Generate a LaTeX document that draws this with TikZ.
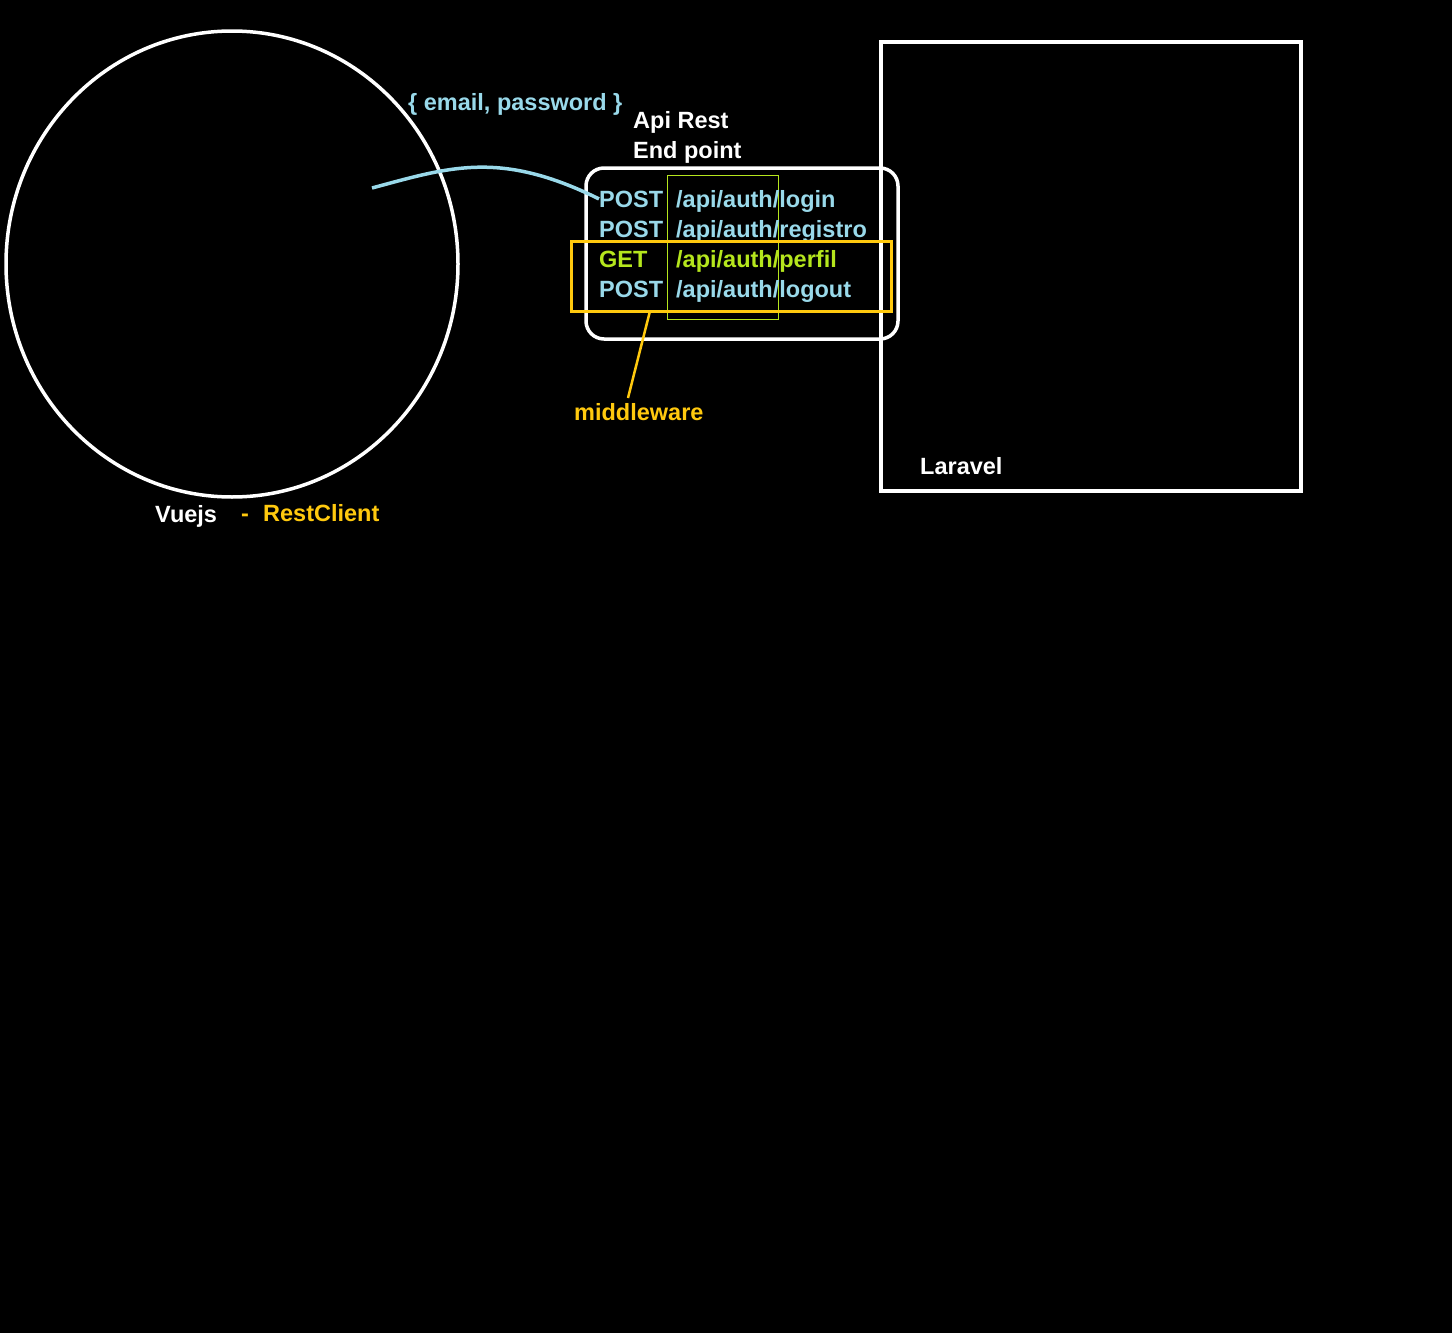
\documentclass[tikz,border=0pt]{standalone}
\usepackage{fontspec}
\setmainfont{Liberation Sans}
\definecolor{sky}{RGB}{153,217,234}
\definecolor{lime}{RGB}{181,230,29}
\definecolor{gold}{RGB}{255,201,14}
\tikzset{
  lbl/.style={anchor=base west, inner sep=0pt, font=\fontsize{23.5}{28}\selectfont\bfseries},
}
\begin{document}
\begin{tikzpicture}[x=1pt, y=-1pt]
  \fill[black] (0,0) rectangle (1452,1333);
  \useasboundingbox (0,0) rectangle (1452,1333);

  % Client and server
  \draw[white, line width=3.5pt] (232,264) ellipse [x radius=226, y radius=233];
  \draw[white, line width=3.5pt] (881,42) rectangle (1301,491);
  \node[lbl, white] (vue) at (155,522) {Vuejs};
  \node[lbl, gold] (dash) at (241,521) {-};
  \node[lbl, gold] (rc) at (263,521) {RestClient};
  \node[lbl, white] (lar) at (920,474) {Laravel};

  % End points
  \draw[white, line width=3.5pt, rounded corners=18pt] (586,168) rectangle (898,339);
  \draw[lime, line width=0.8pt] (667,175) rectangle (778,319);
  \node[lbl, white] (api) at (633,128) {Api Rest};
  \node[lbl, white] (ep) at (633,158) {End point};
  \node[lbl, sky] (m1) at (599,207) {POST};
  \node[lbl, sky] (p1) at (676,207) {/api/auth/login};
  \node[lbl, sky] (m2) at (599,237) {POST};
  \node[lbl, sky] (p2) at (676,237) {/api/auth/registro};
  \node[lbl, lime] (m3) at (599,267) {GET};
  \node[lbl, lime] (p3) at (676,267) {/api/auth/perfil};
  \node[lbl, sky] (m4) at (599,297) {POST};
  \node[lbl, sky] (p4) at (676,297) {/api/auth/logout};

  % Middleware
  \node[draw=gold, line width=3pt, inner sep=0pt, minimum width=320pt, minimum height=70pt] (mw) at (731,276) {};
  \node[lbl, gold] (mwl) at (574,420) {middleware};
  \coordinate (mwa) at (650,311);
  \coordinate (mwb) at (628,398);
  \draw[gold, line width=2.5pt] (mwa) -- (mwb);

  % Request
  \node[lbl, sky] (cred) at (408,110) {\{ email, password \}};
  \coordinate (req) at (372,188);
  \draw[sky, line width=3.5pt] (req) .. controls (450,167) and (500,150) .. (m1.west);
\end{tikzpicture}
\end{document}
